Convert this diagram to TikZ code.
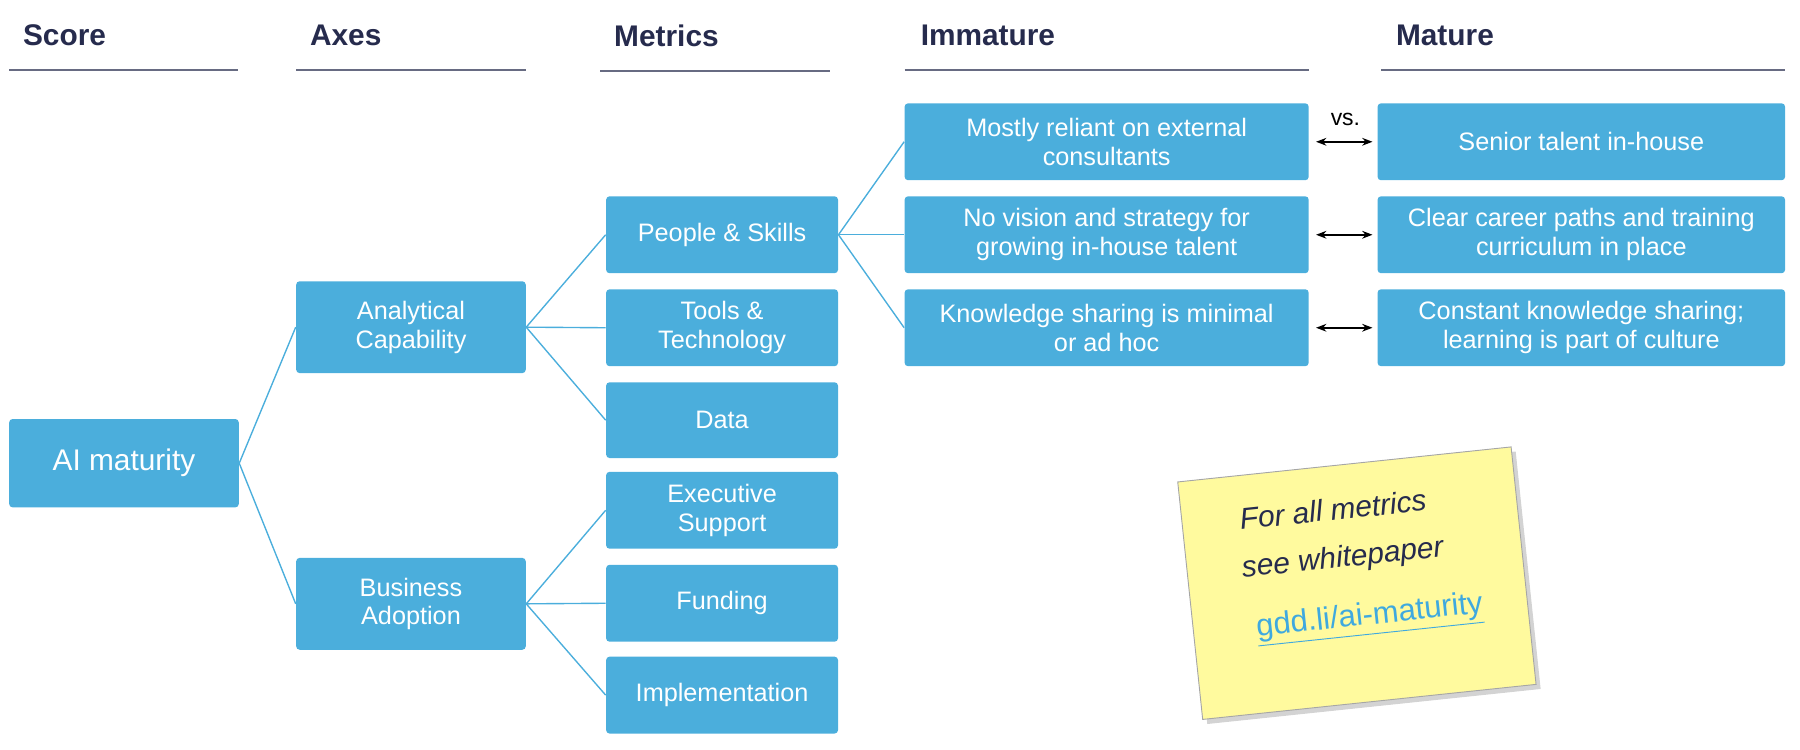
\documentclass[tikz,border=0pt]{standalone}
\usepackage{fontspec}
\setmainfont{Liberation Sans}
\usetikzlibrary{arrows.meta,shadows}
\definecolor{boxc}{HTML}{4BAEDC}
\definecolor{navy}{HTML}{262B4D}
\definecolor{notec}{HTML}{FFFA9E}
\definecolor{linkc}{HTML}{3FA9DF}
\begin{document}
\begin{tikzpicture}[x=0.5pt,y=-0.5pt,
  bx/.style={fill=boxc,rounded corners=1.5pt,text=white,font=\fontsize{11}{12.5}\selectfont,align=center,inner sep=0pt},
  hd/.style={anchor=west,text=navy,font=\bfseries\fontsize{13}{15}\selectfont},
  ul/.style={draw=navy!70,line width=0.6pt},
  cn/.style={draw=boxc,line width=0.6pt},
  dar/.style={{Stealth[length=4.5pt]}-{Stealth[length=4.5pt]},line width=0.7pt,black}]
\useasboundingbox (0,0) rectangle (1568,653);
\def\B#1#2#3#4#5#6{\node[bx,minimum width={(#4-#2)*0.5pt},minimum height={(#5-#3)*0.5pt}] (#1) at ({(#2+#4)/2},{(#3+#5)/2}) {#6};}
\node[hd] (h1) at (13,31) {Score};
\node[hd] (h2) at (263,31) {Axes};
\node[hd] (h3) at (528,31) {Metrics};
\node[hd] (h4) at (795,31) {Immature};
\node[hd] (h5) at (1209,31) {Mature};
\draw[ul] (8,61)--(207,61); \draw[ul] (258,61)--(458,61); \draw[ul] (523,62)--(723,62);
\draw[ul] (788,61)--(1140,61); \draw[ul] (1203,61)--(1555,61);
\B{ai}{8}{365}{208}{442}{\fontsize{13}{15}\selectfont AI maturity}
\B{ac}{258}{245}{458}{325}{Analytical\\Capability}
\B{ba}{258}{486}{458}{566}{Business\\Adoption}
\B{ps}{528}{171}{730}{238}{People \& Skills}
\B{tt}{528}{252}{730}{319}{Tools \&\\Technology}
\B{da}{528}{333}{730}{399}{Data}
\B{es}{528}{411}{730}{478}{Executive\\Support}
\B{fu}{528}{492}{730}{559}{Funding}
\B{im}{528}{572}{730}{639}{Implementation}
\B{i1}{788}{90}{1140}{157}{Mostly reliant on external\\consultants}
\B{i2}{788}{171}{1140}{238}{No vision and strategy for\\growing in-house talent}
\B{i3}{788}{252}{1140}{319}{Knowledge sharing is minimal\\or ad hoc}
\B{m1}{1200}{90}{1555}{157}{Senior talent in-house}
\B{m2}{1200}{171}{1555}{238}{Clear career paths and training\\curriculum in place}
\B{m3}{1200}{252}{1555}{319}{Constant knowledge sharing;\\learning is part of culture}
\draw[cn] (ai.east)--(ac.west); \draw[cn] (ai.east)--(ba.west);
\foreach \t in {ps,tt,da} \draw[cn] (ac.east)--(\t.west);
\foreach \t in {es,fu,im} \draw[cn] (ba.east)--(\t.west);
\foreach \t in {i1,i2,i3} \draw[cn] (ps.east)--(\t.west);
\draw[dar] ([xshift=3pt]i1.east)--([xshift=-2pt]m1.west);
\draw[dar] ([xshift=3pt]i2.east)--([xshift=-2pt]m2.west);
\draw[dar] ([xshift=3pt]i3.east)--([xshift=-2pt]m3.west);
\node[font=\fontsize{10}{12}\selectfont] (vs) at (1172,104) {vs.};
\begin{scope}[shift={(1182,508)},rotate=6]
\node[transform shape,fill=notec,draw=gray!70,line width=0.4pt,minimum width=146pt,minimum height=104pt,inner sep=0pt,drop shadow={shadow xshift=2pt,shadow yshift=-2pt,opacity=0.35}] (note) at (0,0) {};
\node[transform shape,text=navy,font=\itshape\fontsize{13}{15}\selectfont] (n1) at (-14,-66) {For all metrics};
\node[transform shape,text=navy,font=\itshape\fontsize{13}{15}\selectfont] (n2) at (-10,-22) {see whitepaper};
\node[transform shape,text=linkc,font=\fontsize{13.5}{15}\selectfont] (n3) at (8,32) {\underline{gdd.li/ai-maturity}};
\end{scope}
\end{tikzpicture}
\end{document}
